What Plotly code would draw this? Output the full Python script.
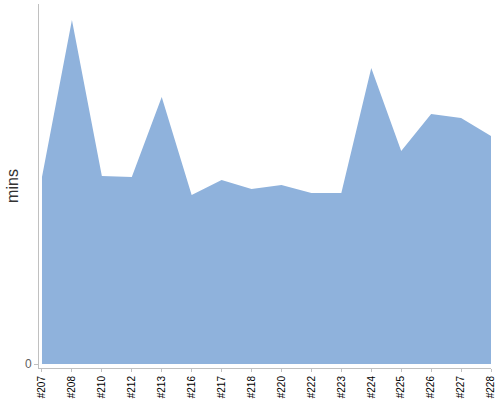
import plotly.graph_objects as go

# build labels along the x axis
builds = ["#207", "#208", "#210", "#212", "#213", "#216", "#217", "#218",
          "#220", "#222", "#223", "#224", "#225", "#226", "#227", "#228"]
# duration per build (mins)
mins = [187, 344, 188, 187, 267, 169, 184, 175,
        179, 171, 171, 296, 213, 250, 246, 228]

fig = go.Figure()
fig.add_trace(go.Scatter(
    x=builds,
    y=mins,
    mode="lines",
    fill="tozeroy",
    fillcolor="#8fb2dc",
    line=dict(width=0, color="#8fb2dc"),
    hoverinfo="x+y",
))

fig.update_layout(
    width=500, height=400,
    margin=dict(l=39, r=9, t=4, b=32),
    paper_bgcolor="white",
    plot_bgcolor="white",
    showlegend=False,
    font=dict(family="Liberation Sans, Arial, sans-serif"),
    xaxis=dict(
        type="category",
        range=[-0.1, 15],
        automargin=False,
        showgrid=False,
        zeroline=False,
        showline=True,
        linecolor="#c0c0c0",
        linewidth=1,
        ticks="outside",
        ticklen=3,
        tickcolor="#c0c0c0",
        tickangle=-90,
        tickfont=dict(size=10, color="#000000"),
    ),
    yaxis=dict(
        automargin=False,
        range=[-4, 360],
        tickvals=[0],
        ticktext=["0"],
        showgrid=False,
        zeroline=False,
        showline=True,
        linecolor="#c0c0c0",
        linewidth=1,
        ticks="outside",
        ticklen=4,
        tickcolor="#c0c0c0",
        tickfont=dict(size=12, color="#606060"),
    ),
)

# y axis title placed by hand so it sits where the reference has it
fig.add_annotation(
    text="mins",
    xref="paper", yref="paper",
    x=-0.06, y=0.5,
    xanchor="center", yanchor="middle",
    textangle=-90,
    showarrow=False,
    font=dict(size=16, color="#333333"),
)

# browser default body margin would shift the fixed-size figure
fig.write_html("out.html", config={"displayModeBar": False},
               post_script="document.body.style.margin='0px';")
